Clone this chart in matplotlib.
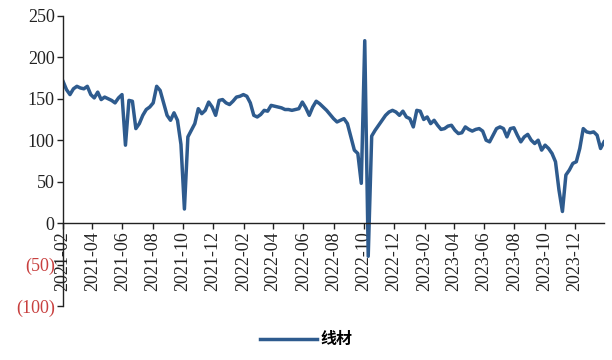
import datetime as dt
import matplotlib
matplotlib.use("Agg")
import matplotlib.pyplot as plt
import matplotlib.dates as mdates

# Weekly series for 线材, starting the first week of Feb 2021
start_date = dt.date(2021, 2, 1)
series_name = "线材"
values = [
    171, 161, 155, 162, 165, 163, 162, 165, 155, 151,
    158, 149, 152, 150, 148, 145, 151, 155, 94, 148,
    147, 114, 120, 130, 137, 140, 145, 165, 160, 145,
    130, 124, 133, 124, 95, 17, 104, 112, 120, 138,
    132, 136, 146, 140, 130, 148, 149, 145, 143, 147,
    152, 153, 155, 153, 145, 130, 128, 131, 136, 135,
    142, 141, 140, 139, 137, 137, 136, 137, 138, 146,
    139, 130, 140, 147, 144, 140, 136, 131, 126, 122,
    124, 126, 120, 104, 88, 84, 48, 220, -40, 105,
    112, 118, 124, 130, 134, 136, 134, 130, 135, 128,
    126, 116, 136, 135, 125, 128, 120, 124, 118, 113,
    114, 117, 118, 112, 108, 109, 116, 113, 111, 113,
    114, 111, 100, 98, 106, 114, 116, 114, 104, 114,
    115, 106, 98, 104, 107, 100, 96, 100, 88, 94,
    90, 84, 74, 40, 14, 58, 64, 72, 74, 90,
    114, 110, 109, 110, 106, 90, 98,
]
dates = [start_date + dt.timedelta(weeks=i) for i in range(len(values))]

y_ticks = [-100, -50, 0, 50, 100, 150, 200, 250]


def fmt_tick(v):
    v = int(v)
    return f"({abs(v)})" if v < 0 else f"{v}"


fig = plt.figure(figsize=(6.12, 3.6), dpi=100)
ax = fig.add_axes([0.103, 0.15, 0.884, 0.806])

line_color = "#2E5B8E"
ax.plot(dates, values, color=line_color, linewidth=2.5, solid_joinstyle="round",
        label=series_name)

ax.set_xlim(dates[0], dates[-1])
ax.set_ylim(-100, 250)

for side in ("top", "right"):
    ax.spines[side].set_visible(False)
ax.spines["bottom"].set_position(("data", 0))
ax.spines["left"].set_color("#222222")
ax.spines["bottom"].set_color("#222222")
ax.spines["left"].set_linewidth(1.0)
ax.spines["bottom"].set_linewidth(1.0)

ax.xaxis.set_major_locator(mdates.MonthLocator(bymonth=[2, 4, 6, 8, 10, 12]))
ax.xaxis.set_major_formatter(mdates.DateFormatter("%Y-%m"))

ax.set_yticks(y_ticks)
ax.set_yticklabels([fmt_tick(v) for v in y_ticks])

serif = ["Liberation Serif", "DejaVu Serif"]
for lbl in ax.get_xticklabels():
    lbl.set_rotation(90)
    lbl.set_fontfamily(serif)
    lbl.set_fontsize(13)
    lbl.set_color("#222222")
for v, lbl in zip(y_ticks, ax.get_yticklabels()):
    lbl.set_fontfamily(serif)
    lbl.set_fontsize(13)
    lbl.set_color("#C8403F" if v < 0 else "#222222")

ax.tick_params(axis="x", direction="out", length=4, width=1.0, pad=2, color="#222222")
ax.tick_params(axis="y", direction="out", length=4, width=1.0, pad=2, color="#222222")

fig.legend(loc="lower center", bbox_to_anchor=(0.5, -0.005), frameon=False,
           handlelength=3.6, handletextpad=0.2,
           prop={"family": ["Noto Sans CJK SC", "DejaVu Sans"], "size": 11.5,
                 "weight": "bold"})

fig.savefig("out.png", dpi=100)
